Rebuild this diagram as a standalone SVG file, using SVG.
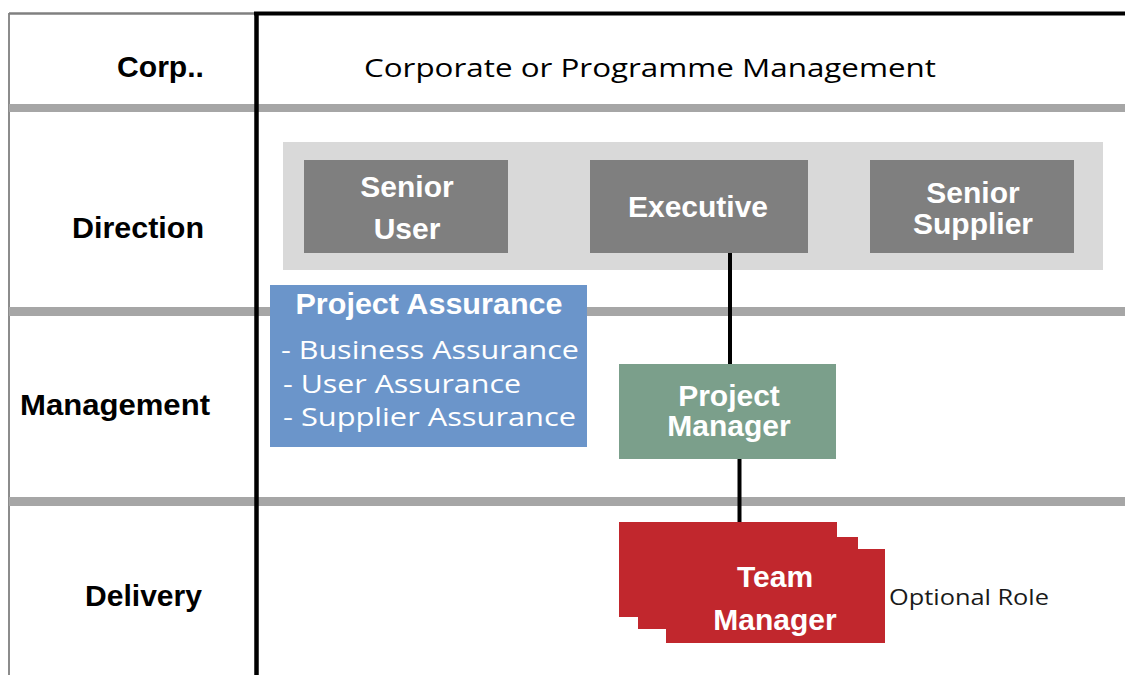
<svg xmlns="http://www.w3.org/2000/svg" width="1125" height="675" viewBox="0 0 1125 675">
<style>
.lbl{font-family:"Liberation Sans",Arial,sans-serif;font-weight:bold;font-size:30px;fill:#000}
.wb{font-family:"Liberation Sans",Arial,sans-serif;font-weight:bold;font-size:30px;fill:#fff;text-anchor:middle}
.reg{font-family:"Open Sans","Liberation Sans",sans-serif;font-size:26px}
.bar{fill:#a6a6a6}
.conn{stroke:#000;stroke-width:4;fill:none}
</style>
<rect width="1125" height="675" fill="#fff"/>
<g id="frame">
<line x1="9" y1="13" x2="9" y2="675" stroke="#8c8c8c" stroke-width="2"/>
<line x1="9" y1="13.5" x2="256" y2="13.5" stroke="#808080" stroke-width="2.5"/>
<line x1="254" y1="13.5" x2="1125" y2="13.5" stroke="#000" stroke-width="4"/>
<rect class="bar" x="9" y="104" width="1116" height="8"/>
<rect class="bar" x="9" y="307" width="1116" height="9"/>
<rect class="bar" x="9" y="497" width="1116" height="9"/>
<line x1="256.5" y1="12" x2="256.5" y2="675" stroke="#000" stroke-width="4.5"/>
</g>
<g id="lane-labels">
<text class="lbl" x="117" y="77" textLength="87" lengthAdjust="spacingAndGlyphs">Corp..</text>
<text class="lbl" x="72" y="238" textLength="132" lengthAdjust="spacingAndGlyphs">Direction</text>
<text class="lbl" x="20" y="415" textLength="190" lengthAdjust="spacingAndGlyphs">Management</text>
<text class="lbl" x="85" y="606" textLength="117" lengthAdjust="spacingAndGlyphs">Delivery</text>
</g>
<g id="corporate">
<text class="reg" x="364" y="77" fill="#000" textLength="572" lengthAdjust="spacingAndGlyphs">Corporate or Programme Management</text>
</g>
<g id="direction-board">
<rect x="283" y="142" width="820" height="128" fill="#d9d9d9"/>
</g>
<g id="connectors">
<line class="conn" x1="730" y1="253" x2="730" y2="364"/>
<line class="conn" x1="739.5" y1="459" x2="739.5" y2="522"/>
</g>
<g id="senior-user">
<rect x="304" y="160" width="204" height="93" fill="#7f7f7f"/>
<text class="wb" x="407" y="197">Senior</text>
<text class="wb" x="407" y="239">User</text>
</g>
<g id="executive">
<rect x="590" y="160" width="218" height="93" fill="#7f7f7f"/>
<text class="wb" x="698" y="217">Executive</text>
</g>
<g id="senior-supplier">
<rect x="870" y="160" width="204" height="93" fill="#7f7f7f"/>
<text class="wb" x="973" y="203">Senior</text>
<text class="wb" x="973" y="234">Supplier</text>
</g>
<g id="project-assurance">
<rect x="270" y="285" width="317" height="162" fill="#6b95ca"/>
<text class="wb" x="429" y="314" textLength="267" lengthAdjust="spacingAndGlyphs">Project Assurance</text>
<text class="reg" x="281" y="359" fill="#fff" textLength="298" lengthAdjust="spacingAndGlyphs">- Business Assurance</text>
<text class="reg" x="283" y="393" fill="#fff" textLength="238" lengthAdjust="spacingAndGlyphs">- User Assurance</text>
<text class="reg" x="283" y="426" fill="#fff" textLength="293" lengthAdjust="spacingAndGlyphs">- Supplier Assurance</text>
</g>
<g id="project-manager">
<rect x="619" y="364" width="217" height="95" fill="#7b9f8b"/>
<text class="wb" x="729" y="406">Project</text>
<text class="wb" x="729" y="436">Manager</text>
</g>
<g id="team-manager">
<rect x="619" y="522" width="218" height="95" fill="#c1272d"/>
<rect x="638" y="537" width="220" height="92" fill="#c1272d"/>
<rect x="666" y="549" width="219" height="94" fill="#c1272d"/>
<text class="wb" x="775" y="587">Team</text>
<text class="wb" x="775" y="630">Manager</text>
</g>
<g id="optional-role">
<text class="reg" x="889" y="605" fill="#1a1a1a" style="font-size:22px" textLength="160" lengthAdjust="spacingAndGlyphs">Optional Role</text>
</g>
</svg>
